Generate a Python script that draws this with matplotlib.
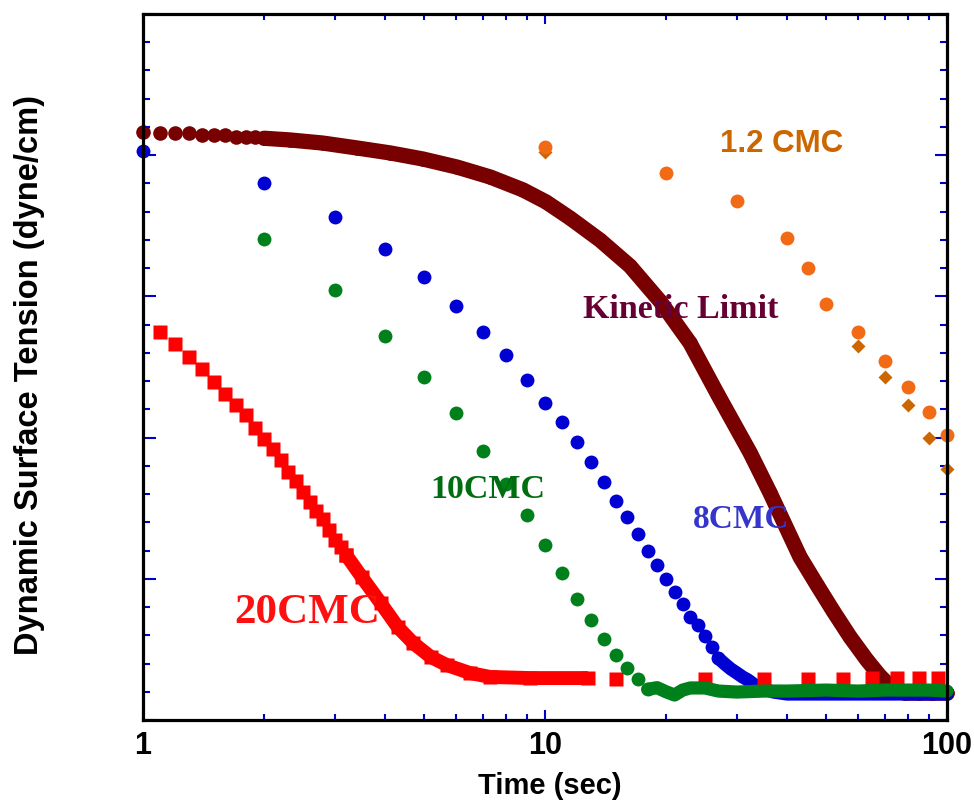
import numpy as np
import matplotlib
matplotlib.use('Agg')
import matplotlib.pyplot as plt
from matplotlib.ticker import NullFormatter

# ---- datos (tiempo en s, tension en dyne/cm) ----
# Kinetic Limit
kin_t = [1.0, 1.1, 1.2, 1.3, 1.4, 1.5, 1.6, 1.7, 1.8, 1.9, 2.0,
         2.32, 2.8, 3.41, 4.12, 4.97, 6.04, 7.3, 8.82, 10.06, 11.54, 13.7,
         16.27, 19.32, 22.95, 26.94, 32.4, 36.3, 43.1, 47.5, 52.1,
         57.4, 63.2, 68.1, 73.4, 78.6, 85.0, 92.0, 100.0]
kin_y = [66.66, 66.55, 66.55, 66.55, 66.43, 66.43, 66.41, 66.31, 66.31, 66.27, 66.20,
         66.08, 65.86, 65.51, 65.16, 64.73, 64.16, 63.46, 62.54, 61.69, 60.55, 58.99,
         57.15, 54.67, 51.70, 48.02, 43.91, 41.08, 36.54, 34.56, 32.72,
         30.88, 29.25, 28.12, 27.20, 26.91, 26.91, 26.91, 26.91]

# 8CMC
cmc8_t = [1, 2, 3, 4, 5, 6, 7, 8, 9, 10, 11, 12, 13, 14, 15, 16, 17, 18, 19, 20,
          21, 22, 23, 24, 25, 26, 27]
cmc8_y = [65.30, 63.05, 60.64, 58.38, 56.35, 54.34, 52.46, 50.83, 49.06, 47.43,
          46.14, 44.67, 43.27, 41.88, 40.51, 39.40, 38.15, 36.97, 35.98, 34.96,
          34.09, 33.22, 32.32, 31.73, 30.97, 30.19, 29.37]
cmc8_tail_t = [27, 28, 29, 30, 31, 32, 33, 34, 35, 37, 40, 50, 60, 70, 80, 90, 100]
cmc8_tail_y = [29.37, 28.97, 28.61, 28.33, 28.05, 27.83, 27.55, 27.34, 27.20, 26.98,
               26.84, 26.84, 26.84, 26.84, 26.84, 26.84, 26.84]

# 10CMC
cmc10_t = [2, 3, 4, 5, 6, 7, 8, 9, 10, 11, 12, 13, 14, 15, 16, 17, 18]
cmc10_y = [59.04, 55.45, 52.22, 49.31, 46.72, 44.05, 41.71, 39.52, 37.37, 35.39,
           33.59, 32.08, 30.72, 29.57, 28.70, 27.93, 27.17]
cmc10_tail_t = [18, 19, 20, 21, 22, 23, 25, 27, 30, 35, 40, 50, 60, 70, 80, 90, 100]
cmc10_tail_y = [27.17, 27.29, 27.00, 26.77, 27.12, 27.27, 27.27, 27.05, 26.98, 27.05,
                27.05, 27.12, 27.05, 27.12, 27.12, 27.12, 27.05]

# 20CMC
cmc20_t = [1.1, 1.2, 1.3, 1.4, 1.5, 1.6, 1.7, 1.8, 1.9, 2.0, 2.1, 2.2, 2.3, 2.4,
           2.5, 2.6, 2.7, 2.8, 2.9, 3.0, 3.1, 3.2]
cmc20_y = [52.48, 51.63, 50.71, 49.86, 48.94, 48.09, 47.31, 46.60, 45.68, 44.90,
           44.19, 43.41, 42.56, 41.93, 41.15, 40.44, 39.80, 39.24, 38.46, 37.75,
           37.25, 36.69]
cmc20_band_t = [3.2, 3.5, 3.9, 4.3, 4.7, 5.2, 5.7, 6.5, 7.3, 9.2, 12.8]
cmc20_band_y = [36.69, 35.13, 33.29, 31.59, 30.45, 29.46, 28.89, 28.33, 28.05, 27.97, 27.97]
cmc20_tail_t = [15, 25, 35, 45, 55, 65, 75, 85, 95]
cmc20_tail_y = [27.90, 27.90, 27.90, 27.90, 27.90, 27.95, 27.95, 27.95, 27.95]

# 1.2 CMC
cmc12_t = [10, 20, 30, 40, 45, 50, 60, 70, 80, 90, 100]
cmc12_y = [65.60, 63.76, 61.78, 59.12, 56.99, 54.46, 52.46, 50.45, 48.58, 46.81, 45.18]
cmc12b_t = [10, 60, 70, 80, 90, 100]
cmc12b_y = [65.25, 51.51, 49.27, 47.31, 44.99, 42.76]

c_kin = '#780000'
c_blue = '#0000d2'
c_green = '#00801a'
c_red = '#ff0000'
c_orange = '#f26a14'
c_dorange = '#cc6600'

fig = plt.figure(figsize=(9.74, 8.06), dpi=100)
ax = fig.add_axes([143/974, 1 - 720/806, 804/974, 706/806])

# Kinetic Limit
ax.plot(kin_t[10:], kin_y[10:], '-', color=c_kin, lw=11, solid_capstyle='round',
        solid_joinstyle='round', zorder=1, clip_on=False)
ax.plot(kin_t, kin_y, 'o', color=c_kin, ms=10.5, mec='none', zorder=1, clip_on=False)

# 8CMC
ax.plot(cmc8_t, cmc8_y, 'o', color=c_blue, ms=10, mec='none', zorder=2, clip_on=False)
ax.plot(cmc8_tail_t, cmc8_tail_y, '-', color=c_blue, lw=9.5, solid_capstyle='round',
        solid_joinstyle='round', zorder=2, clip_on=False)

# 20CMC
ax.plot(cmc20_t, cmc20_y, 's', color=c_red, ms=10, mec='none', zorder=3)
ax.plot(cmc20_band_t, cmc20_band_y, '-', color=c_red, lw=10, solid_capstyle='butt', zorder=3)
ax.plot(cmc20_band_t, cmc20_band_y, 's', color=c_red, ms=10, mec='none', zorder=3)
ax.plot(cmc20_tail_t, cmc20_tail_y, 's', color=c_red, ms=10, mec='none', zorder=3)

# 10CMC
ax.plot(cmc10_t, cmc10_y, 'o', color=c_green, ms=10, mec='none', zorder=4)
ax.plot(cmc10_tail_t, cmc10_tail_y, '-', color=c_green, lw=9.5, solid_capstyle='round',
        solid_joinstyle='round', zorder=4, clip_on=False)

# 1.2 CMC
ax.plot(cmc12b_t, cmc12b_y, 'D', color=c_dorange, ms=7, mec='none', zorder=5, clip_on=False)
ax.plot(cmc12_t, cmc12_y, 'o', color=c_orange, ms=10, mec='none', zorder=6, clip_on=False)

ax.set_xscale('log')
ax.set_xlim(1, 100)
ax.set_ylim(25, 75)
ax.set_yticks(np.arange(25, 76, 10))
ax.set_yticks(np.arange(25, 76, 2), minor=True)
ax.yaxis.set_major_formatter(NullFormatter())
ax.set_xticks([1, 10, 100])
ax.set_xticklabels(['1', '10', '100'])
ax.xaxis.set_minor_formatter(NullFormatter())

for s in ax.spines.values():
    s.set_linewidth(2.3)
    s.set_color('black')
    s.set_zorder(10)

ax.tick_params(which='both', direction='in', top=True, right=True, color='#0000cc', width=1.5)
ax.tick_params(axis='x', which='major', length=7.5, pad=8)
ax.tick_params(axis='x', which='minor', length=4)
ax.tick_params(axis='y', which='major', length=9)
ax.tick_params(axis='y', which='minor', length=5)
for lab in ax.get_xticklabels():
    lab.set_fontfamily('Liberation Sans')
    lab.set_fontweight('bold')
    lab.set_fontsize(22)

# etiquetas de las curvas
ax.text(27.2, 65.25, '1.2 CMC', color=c_dorange, fontsize=22.5, fontweight='bold',
        family='Liberation Sans', ha='left', va='baseline', zorder=12)
ax.text(12.43, 53.47, 'Kinetic Limit', color='#660033', fontsize=24.5, fontweight='bold',
        family='Liberation Serif', ha='left', va='baseline', zorder=12)
ax.text(5.18, 40.74, '10CMC', color='#006e10', fontsize=24.5, fontweight='bold',
        family='Liberation Serif', ha='left', va='baseline', zorder=12)
ax.text(23.35, 38.62, '8CMC', color='#3535cc', fontsize=24, fontweight='bold',
        family='Liberation Serif', ha='left', va='baseline', zorder=12)
ax.text(1.684, 31.89, '20CMC', color='#ff1010', fontsize=31, fontweight='bold',
        family='Liberation Serif', ha='left', va='baseline', zorder=12)

fig.text(550/974, 1 - 786/806, 'Time (sec)', fontsize=21, fontweight='bold',
         family='Liberation Sans', ha='center', va='center')
fig.text(30/974, 1 - 375/806, 'Dynamic Surface Tension (dyne/cm)', fontsize=23.5,
         fontweight='bold', family='Liberation Sans', ha='center', va='center', rotation=90)

fig.savefig('out.png', dpi=100)
